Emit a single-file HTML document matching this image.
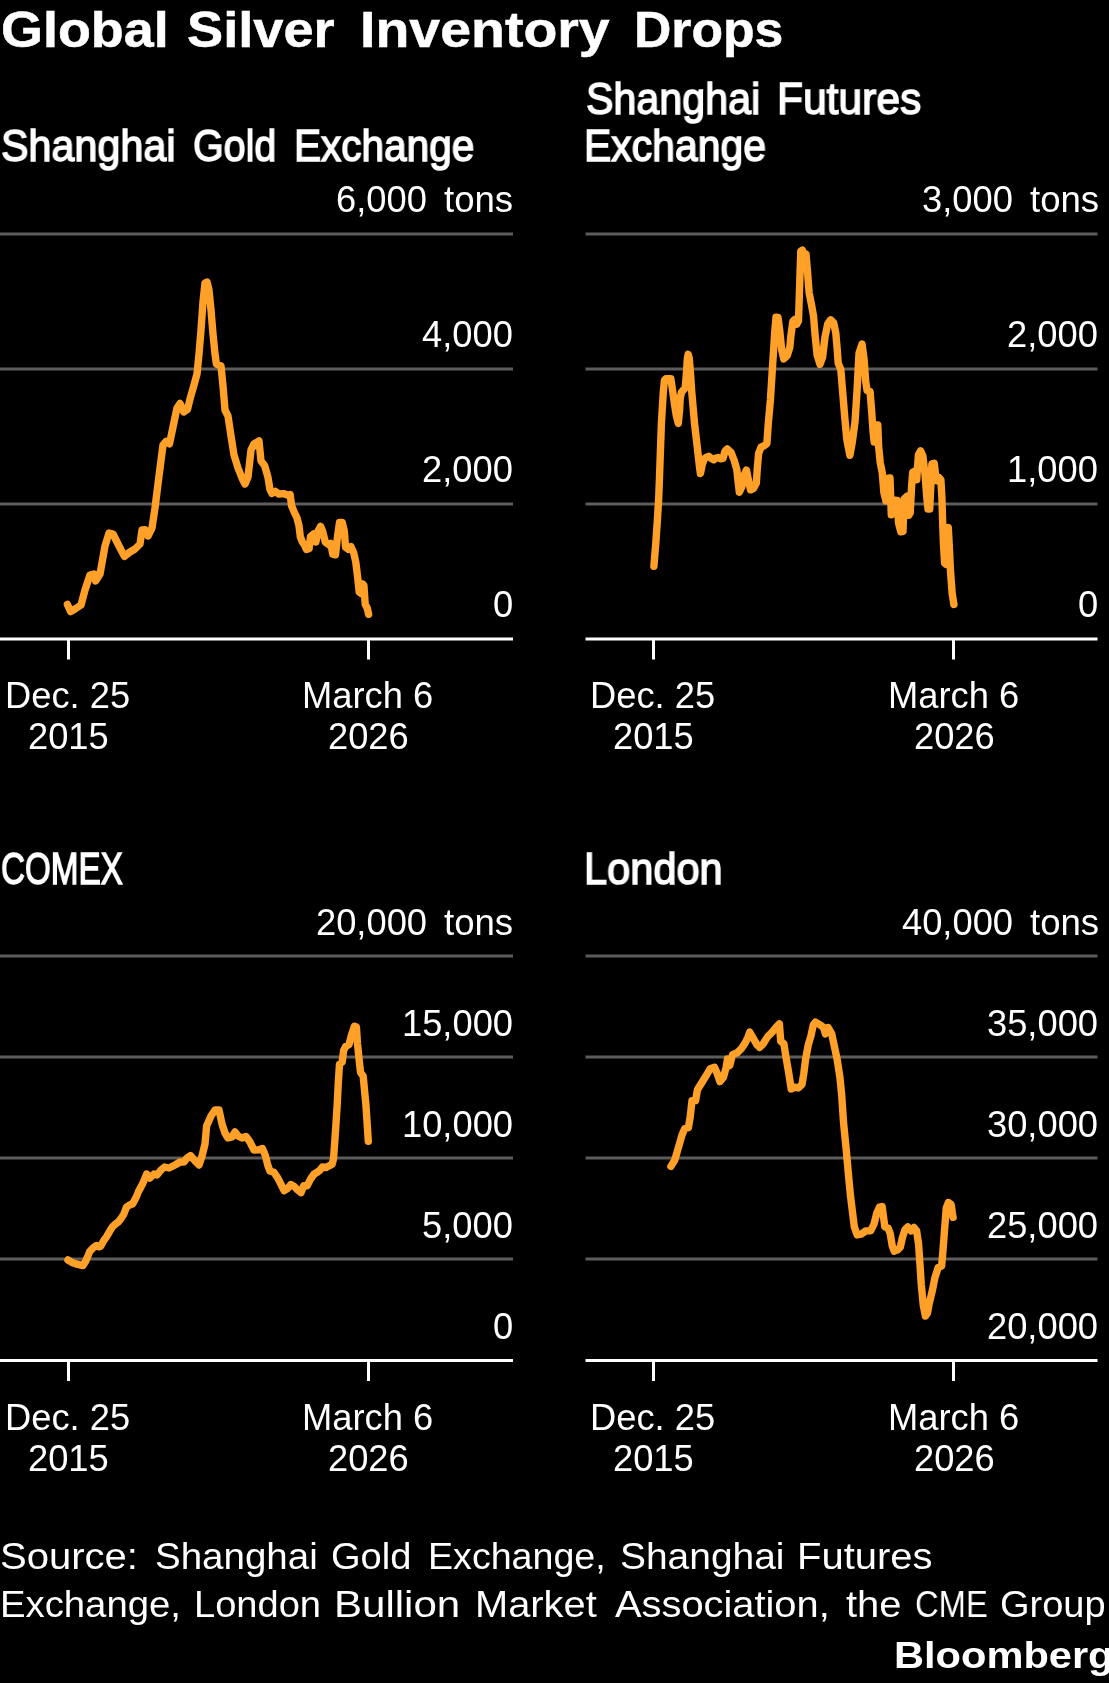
<!DOCTYPE html>
<html><head><meta charset='utf-8'><title>Global Silver Inventory Drops</title><style>
html,body{margin:0;padding:0;background:#000;}
body{width:1109px;height:1683px;position:relative;overflow:hidden;font-family:'Liberation Sans', sans-serif;color:#fff;}
.t{position:absolute;white-space:pre;line-height:1;transform-origin:0 0;color:#fff;will-change:transform;}
svg{position:absolute;left:0;top:0;}
</style></head><body>
<svg width='1109' height='1683' viewBox='0 0 1109 1683'>
<rect x='0' y='232.5' width='513' height='3' fill='#5c5c5c'/>
<rect x='0' y='367.5' width='513' height='3' fill='#5c5c5c'/>
<rect x='0' y='502.5' width='513' height='3' fill='#5c5c5c'/>
<rect x='0' y='637.5' width='513' height='3' fill='#fff'/>
<rect x='67.0' y='639' width='3' height='20.5' fill='#fff'/>
<rect x='367.0' y='639' width='3' height='20.5' fill='#fff'/>
<rect x='585.5' y='232.5' width='512.0' height='3' fill='#5c5c5c'/>
<rect x='585.5' y='367.5' width='512.0' height='3' fill='#5c5c5c'/>
<rect x='585.5' y='502.5' width='512.0' height='3' fill='#5c5c5c'/>
<rect x='585.5' y='637.5' width='512.0' height='3' fill='#fff'/>
<rect x='652.0' y='639' width='3' height='20.5' fill='#fff'/>
<rect x='952.0' y='639' width='3' height='20.5' fill='#fff'/>
<rect x='0' y='954.5' width='513' height='3' fill='#5c5c5c'/>
<rect x='0' y='1055.5' width='513' height='3' fill='#5c5c5c'/>
<rect x='0' y='1156.5' width='513' height='3' fill='#5c5c5c'/>
<rect x='0' y='1257.5' width='513' height='3' fill='#5c5c5c'/>
<rect x='0' y='1359.0' width='513' height='3' fill='#fff'/>
<rect x='67.0' y='1360.5' width='3' height='20.5' fill='#fff'/>
<rect x='367.0' y='1360.5' width='3' height='20.5' fill='#fff'/>
<rect x='585.5' y='954.5' width='512.0' height='3' fill='#5c5c5c'/>
<rect x='585.5' y='1055.5' width='512.0' height='3' fill='#5c5c5c'/>
<rect x='585.5' y='1156.5' width='512.0' height='3' fill='#5c5c5c'/>
<rect x='585.5' y='1257.5' width='512.0' height='3' fill='#5c5c5c'/>
<rect x='585.5' y='1359.0' width='512.0' height='3' fill='#fff'/>
<rect x='652.0' y='1360.5' width='3' height='20.5' fill='#fff'/>
<rect x='952.0' y='1360.5' width='3' height='20.5' fill='#fff'/>
<polyline points='67.4,604.4 70.6,611.6 75.0,609.0 81.0,605.0 85.0,590.0 90.0,575.0 94.0,574.0 95.6,581.0 100.0,574.0 105.0,546.0 109.0,533.0 113.0,534.0 119.0,546.0 124.4,556.4 130.0,552.0 135.0,549.0 140.0,544.0 142.0,530.0 145.0,529.6 148.0,536.0 152.0,528.0 155.0,508.0 159.0,476.0 163.0,445.0 166.0,441.3 169.5,443.8 173.0,427.0 177.0,408.0 180.0,403.5 183.8,412.0 187.5,409.5 190.0,399.0 194.0,385.0 197.0,374.0 199.0,354.0 201.0,330.0 203.0,302.0 205.0,283.0 207.0,282.0 209.0,290.0 211.0,310.0 213.0,334.0 215.0,354.0 216.4,364.0 221.0,366.0 223.0,386.0 225.0,410.0 228.0,416.0 231.0,436.0 234.0,455.0 238.0,468.0 242.0,478.0 245.0,484.0 248.0,477.0 251.0,450.0 254.0,444.0 259.0,441.0 261.0,461.0 264.6,465.5 267.9,477.0 269.9,489.2 271.9,493.3 275.3,491.3 278.7,494.0 283.4,493.6 288.1,495.3 290.2,494.6 291.5,505.5 294.2,512.2 296.9,517.6 299.0,525.7 300.3,536.6 302.3,542.0 304.4,544.7 306.4,549.4 309.1,548.7 310.5,536.6 313.8,533.9 315.9,542.0 317.9,531.2 320.6,526.4 322.6,531.2 325.3,542.0 328.7,544.7 330.7,543.3 332.8,554.2 335.5,554.8 337.5,536.6 339.5,522.4 342.2,522.4 344.3,531.2 345.6,547.4 348.3,549.4 351.0,546.7 353.7,552.8 355.8,562.3 357.8,578.5 359.2,592.0 361.2,593.4 362.5,583.9 363.9,585.3 365.2,604.2 367.3,608.3 368.6,614.3' fill='none' stroke='#ffa028' stroke-width='7.4' stroke-linejoin='round' stroke-linecap='round'/>
<polyline points='653.9,566.3 655.8,543.0 657.4,520.0 658.7,498.0 659.4,480.0 661.4,423.2 663.3,392.0 664.4,380.5 666.0,378.6 670.8,378.6 672.4,389.0 674.6,405.0 676.2,415.0 678.3,423.4 679.6,410.0 680.2,398.2 681.4,392.4 685.2,387.8 686.4,373.3 687.4,358.0 688.2,354.3 689.2,358.0 690.4,372.0 691.6,389.9 694.5,423.2 697.4,448.2 699.4,466.0 700.4,473.6 702.4,464.0 704.4,458.6 706.6,457.2 708.7,456.3 711.0,458.2 713.7,459.8 716.0,458.0 718.1,457.5 720.5,458.8 723.0,458.4 724.9,451.5 727.2,448.8 731.2,452.7 734.3,460.8 736.8,469.6 738.0,480.8 739.3,492.2 741.8,487.0 744.3,474.6 746.4,470.0 748.6,480.8 750.5,489.8 753.6,488.3 756.3,483.3 757.3,468.3 758.6,453.4 761.1,447.1 764.8,445.3 766.9,443.4 768.2,424.7 770.4,399.8 772.4,368.6 773.6,349.9 774.8,331.2 776.0,317.3 778.0,317.5 779.8,331.2 781.7,349.9 783.8,359.0 787.3,355.5 789.8,347.4 791.0,334.9 792.9,321.2 794.8,319.5 796.6,324.3 798.5,321.0 799.8,280.4 800.8,251.1 802.4,250.1 804.4,255.2 806.0,254.1 807.4,270.3 809.1,292.6 811.5,304.7 813.5,315.8 815.1,335.0 817.1,355.2 820.0,364.3 822.6,357.2 825.0,337.0 827.7,323.9 830.7,319.8 833.7,322.9 835.8,333.0 837.2,349.2 838.2,363.3 840.8,369.4 842.8,393.6 844.8,417.9 846.9,440.1 849.9,455.3 852.3,442.1 855.0,421.9 857.0,391.6 859.0,353.2 862.0,344.1 864.1,359.3 865.7,381.5 867.1,390.6 870.1,391.6 871.7,411.8 873.1,432.0 874.2,442.1 875.2,425.0 877.8,425.0 878.6,446.2 880.2,462.4 882.2,472.5 883.9,492.7 885.9,500.8 887.2,478.5 890.0,478.0 891.3,514.8 893.8,513.2 895.0,500.2 897.2,500.4 898.5,522.8 900.8,531.8 903.0,531.3 904.2,498.8 907.3,496.2 908.6,515.4 910.2,513.0 911.6,486.4 912.7,472.3 915.6,470.6 916.7,479.7 918.4,454.8 920.6,450.9 922.9,456.0 925.1,475.1 926.8,497.7 928.0,509.0 929.7,509.0 930.8,486.4 931.9,463.9 934.2,463.3 935.9,477.4 937.0,480.8 938.7,477.4 940.9,479.7 941.9,497.7 942.6,520.3 943.4,542.9 944.6,563.2 946.0,564.3 946.6,528.2 948.3,527.6 949.4,548.5 950.5,571.1 952.2,593.7 953.9,604.4' fill='none' stroke='#ffa028' stroke-width='7.4' stroke-linejoin='round' stroke-linecap='round'/>
<polyline points='67.9,1260.0 72.0,1262.4 77.0,1264.2 82.8,1265.6 85.5,1261.5 87.7,1256.5 89.7,1251.5 93.0,1248.0 96.7,1245.4 99.0,1246.8 100.8,1246.0 103.5,1241.0 106.6,1236.7 109.5,1231.7 112.5,1226.7 115.5,1224.0 118.5,1221.8 121.0,1218.5 123.5,1214.8 125.0,1211.0 126.4,1207.2 129.5,1205.0 132.4,1204.0 134.2,1201.0 136.3,1197.0 138.5,1191.5 143.0,1183.0 146.6,1174.0 150.0,1178.0 154.0,1174.0 157.0,1175.0 161.0,1170.0 164.6,1167.0 169.0,1168.0 175.0,1165.0 180.0,1162.0 184.0,1162.0 187.0,1158.0 190.6,1155.6 195.0,1161.0 199.0,1165.0 202.0,1156.0 205.0,1144.0 206.6,1126.0 211.0,1116.0 215.0,1110.0 219.0,1110.0 222.0,1124.0 225.0,1133.0 228.0,1138.0 232.0,1137.0 235.0,1132.0 238.0,1136.0 242.0,1138.0 246.0,1136.4 250.0,1142.0 254.0,1150.0 259.0,1149.8 262.4,1148.6 265.1,1154.7 267.9,1165.6 269.9,1171.0 273.9,1172.3 278.0,1178.4 281.4,1185.2 284.1,1190.6 287.5,1188.5 290.8,1184.5 294.2,1186.5 297.6,1189.9 301.0,1192.6 303.7,1185.8 307.1,1185.8 310.5,1179.1 313.8,1174.3 317.2,1172.3 319.9,1170.3 322.6,1166.9 326.0,1167.6 329.4,1165.6 332.1,1164.2 333.5,1158.8 334.5,1145.3 335.9,1125.0 337.2,1104.7 338.2,1084.4 339.5,1064.1 342.2,1062.1 343.6,1050.6 345.6,1046.5 349.0,1044.5 351.7,1034.3 354.4,1026.2 356.4,1026.9 357.5,1043.8 358.9,1057.3 360.5,1072.2 363.2,1076.3 364.6,1091.2 365.9,1104.7 367.0,1120.9 368.3,1141.2' fill='none' stroke='#ffa028' stroke-width='7.4' stroke-linejoin='round' stroke-linecap='round'/>
<polyline points='670.9,1166.4 674.8,1160.1 678.4,1147.5 682.1,1134.8 684.8,1128.5 688.4,1127.6 690.2,1116.8 692.0,1100.6 695.6,1100.6 697.4,1089.8 701.9,1082.5 706.4,1075.3 710.0,1069.0 714.5,1067.2 717.2,1073.5 719.9,1081.6 723.5,1077.1 726.2,1067.2 727.5,1059.1 729.8,1065.4 732.5,1054.6 737.1,1052.8 741.6,1048.3 745.2,1042.9 747.9,1037.5 749.7,1032.1 753.3,1038.4 756.9,1044.7 759.6,1047.4 763.2,1043.8 767.7,1036.6 772.2,1032.1 776.7,1026.6 779.4,1023.9 780.7,1041.1 783.9,1043.8 785.7,1055.5 788.5,1071.7 791.2,1088.9 794.8,1087.1 798.4,1088.0 802.0,1084.3 803.8,1073.5 805.6,1059.1 808.3,1044.7 811.0,1035.7 813.3,1024.8 815.5,1022.1 820.0,1024.8 823.6,1027.5 825.4,1033.9 828.1,1027.5 831.7,1033.9 834.4,1046.5 837.1,1059.1 839.9,1077.1 841.7,1095.2 843.5,1122.2 846.2,1149.3 848.6,1176.3 850.5,1196.0 852.3,1210.6 854.3,1226.8 857.1,1234.9 861.1,1234.2 865.8,1230.9 870.6,1230.9 874.0,1224.1 876.7,1213.3 879.4,1207.2 882.1,1206.5 883.4,1216.0 884.8,1226.8 888.2,1228.2 890.2,1233.6 892.2,1245.7 894.2,1251.2 897.6,1249.8 900.3,1247.1 902.4,1237.6 905.1,1229.5 907.8,1226.8 911.2,1230.9 913.9,1227.5 916.6,1230.9 918.6,1244.4 920.0,1264.7 921.3,1285.0 923.3,1305.3 925.4,1316.1 927.4,1313.4 929.4,1302.6 932.1,1291.7 934.8,1278.2 938.2,1267.4 941.6,1266.0 942.9,1251.2 945.0,1224.1 946.3,1207.9 948.4,1202.5 951.1,1204.5 952.4,1213.3 953.1,1217.3' fill='none' stroke='#ffa028' stroke-width='7.4' stroke-linejoin='round' stroke-linecap='round'/>
</svg>
<div class='t' style='left:0.52px;top:5.38px;font-size:49.4px;font-weight:700;transform:scaleX(1.0919);-webkit-text-stroke:0.5px #fff;'>Global</div>
<div class='t' style='left:187.20px;top:5.38px;font-size:49.4px;font-weight:700;transform:scaleX(1.0977);-webkit-text-stroke:0.5px #fff;'>Silver</div>
<div class='t' style='left:359.93px;top:5.38px;font-size:49.4px;font-weight:700;transform:scaleX(1.1233);-webkit-text-stroke:0.5px #fff;'>Inventory</div>
<div class='t' style='left:634.16px;top:5.38px;font-size:49.4px;font-weight:700;transform:scaleX(1.0464);-webkit-text-stroke:0.5px #fff;'>Drops</div>
<div class='t' style='left:1.36px;top:124.15px;font-size:44px;font-weight:400;transform:scaleX(0.9383);-webkit-text-stroke:1.5px #fff;'>Shanghai</div>
<div class='t' style='left:193.40px;top:124.15px;font-size:44px;font-weight:400;transform:scaleX(0.8956);-webkit-text-stroke:1.5px #fff;'>Gold</div>
<div class='t' style='left:293.64px;top:124.15px;font-size:44px;font-weight:400;transform:scaleX(0.9214);-webkit-text-stroke:1.5px #fff;'>Exchange</div>
<div class='t' style='left:585.56px;top:76.65px;font-size:44px;font-weight:400;transform:scaleX(0.9366);-webkit-text-stroke:1.5px #fff;'>Shanghai</div>
<div class='t' style='left:776.80px;top:76.65px;font-size:44px;font-weight:400;transform:scaleX(0.9671);-webkit-text-stroke:1.5px #fff;'>Futures</div>
<div class='t' style='left:584.31px;top:124.05px;font-size:44px;font-weight:400;transform:scaleX(0.9302);-webkit-text-stroke:1.5px #fff;'>Exchange</div>
<div class='t' style='left:0.85px;top:846.85px;font-size:44px;font-weight:400;transform:scaleX(0.7547);-webkit-text-stroke:1.5px #fff;'>COMEX</div>
<div class='t' style='left:583.77px;top:846.55px;font-size:44px;font-weight:400;transform:scaleX(0.9444);-webkit-text-stroke:1.5px #fff;'>London</div>
<div class='t' style='left:0.48px;top:1539.33px;font-size:36px;font-weight:400;transform:scaleX(1.1118);'>Source:</div>
<div class='t' style='left:154.56px;top:1539.33px;font-size:36px;font-weight:400;transform:scaleX(1.0696);'>Shanghai</div>
<div class='t' style='left:331.49px;top:1539.33px;font-size:36px;font-weight:400;transform:scaleX(1.0569);'>Gold</div>
<div class='t' style='left:427.87px;top:1539.33px;font-size:36px;font-weight:400;transform:scaleX(1.0445);'>Exchange,</div>
<div class='t' style='left:620.14px;top:1539.33px;font-size:36px;font-weight:400;transform:scaleX(1.0811);'>Shanghai</div>
<div class='t' style='left:797.37px;top:1539.33px;font-size:36px;font-weight:400;transform:scaleX(1.1102);'>Futures</div>
<div class='t' style='left:0.11px;top:1586.93px;font-size:36px;font-weight:400;transform:scaleX(1.0634);'>Exchange,</div>
<div class='t' style='left:193.53px;top:1586.93px;font-size:36px;font-weight:400;transform:scaleX(1.0574);'>London</div>
<div class='t' style='left:333.50px;top:1586.93px;font-size:36px;font-weight:400;transform:scaleX(1.1680);'>Bullion</div>
<div class='t' style='left:474.98px;top:1586.93px;font-size:36px;font-weight:400;transform:scaleX(1.1065);'>Market</div>
<div class='t' style='left:615.00px;top:1586.93px;font-size:36px;font-weight:400;transform:scaleX(1.1063);'>Association,</div>
<div class='t' style='left:845.70px;top:1586.93px;font-size:36px;font-weight:400;transform:scaleX(1.1082);'>the</div>
<div class='t' style='left:915.48px;top:1586.93px;font-size:36px;font-weight:400;transform:scaleX(0.9091);'>CME</div>
<div class='t' style='left:1000.19px;top:1586.93px;font-size:36px;font-weight:400;transform:scaleX(1.0557);'>Group</div>
<div class='t' style='left:893.55px;top:1636.58px;font-size:37px;font-weight:700;transform:scaleX(1.1241);'>Bloomberg</div>
<div class='t' style='left:336.00px;top:182.27px;font-size:36.3px;font-weight:400;'>6,000</div>
<div class='t' style='left:444.10px;top:182.27px;font-size:36.3px;font-weight:400;transform:scaleX(1.0075);'>tons</div>
<div class='t' style='left:421.60px;top:317.27px;font-size:36.3px;font-weight:400;'>4,000</div>
<div class='t' style='left:421.60px;top:452.27px;font-size:36.3px;font-weight:400;'>2,000</div>
<div class='t' style='left:492.60px;top:587.27px;font-size:36.3px;font-weight:400;'>0</div>
<div class='t' style='left:921.60px;top:182.27px;font-size:36.3px;font-weight:400;'>3,000</div>
<div class='t' style='left:1029.70px;top:182.27px;font-size:36.3px;font-weight:400;transform:scaleX(1.0075);'>tons</div>
<div class='t' style='left:1007.20px;top:317.27px;font-size:36.3px;font-weight:400;'>2,000</div>
<div class='t' style='left:1007.20px;top:452.27px;font-size:36.3px;font-weight:400;'>1,000</div>
<div class='t' style='left:1078.20px;top:587.27px;font-size:36.3px;font-weight:400;'>0</div>
<div class='t' style='left:316.00px;top:904.57px;font-size:36.3px;font-weight:400;'>20,000</div>
<div class='t' style='left:444.10px;top:904.57px;font-size:36.3px;font-weight:400;transform:scaleX(1.0075);'>tons</div>
<div class='t' style='left:401.60px;top:1005.57px;font-size:36.3px;font-weight:400;'>15,000</div>
<div class='t' style='left:401.60px;top:1106.57px;font-size:36.3px;font-weight:400;'>10,000</div>
<div class='t' style='left:421.60px;top:1207.57px;font-size:36.3px;font-weight:400;'>5,000</div>
<div class='t' style='left:492.60px;top:1308.57px;font-size:36.3px;font-weight:400;'>0</div>
<div class='t' style='left:901.60px;top:904.57px;font-size:36.3px;font-weight:400;'>40,000</div>
<div class='t' style='left:1029.70px;top:904.57px;font-size:36.3px;font-weight:400;transform:scaleX(1.0075);'>tons</div>
<div class='t' style='left:987.20px;top:1005.57px;font-size:36.3px;font-weight:400;'>35,000</div>
<div class='t' style='left:987.20px;top:1106.57px;font-size:36.3px;font-weight:400;'>30,000</div>
<div class='t' style='left:987.20px;top:1207.57px;font-size:36.3px;font-weight:400;'>25,000</div>
<div class='t' style='left:987.20px;top:1308.57px;font-size:36.3px;font-weight:400;'>20,000</div>
<div class='t' style='left:4.80px;top:677.97px;font-size:36.3px;font-weight:400;'>Dec. 25</div>
<div class='t' style='left:27.80px;top:719.47px;font-size:36.3px;font-weight:400;'>2015</div>
<div class='t' style='left:302.10px;top:677.97px;font-size:36.3px;font-weight:400;'>March 6</div>
<div class='t' style='left:328.10px;top:719.47px;font-size:36.3px;font-weight:400;'>2026</div>
<div class='t' style='left:590.40px;top:677.97px;font-size:36.3px;font-weight:400;'>Dec. 25</div>
<div class='t' style='left:613.40px;top:719.47px;font-size:36.3px;font-weight:400;'>2015</div>
<div class='t' style='left:887.70px;top:677.97px;font-size:36.3px;font-weight:400;'>March 6</div>
<div class='t' style='left:913.70px;top:719.47px;font-size:36.3px;font-weight:400;'>2026</div>
<div class='t' style='left:4.80px;top:1399.67px;font-size:36.3px;font-weight:400;'>Dec. 25</div>
<div class='t' style='left:27.80px;top:1441.17px;font-size:36.3px;font-weight:400;'>2015</div>
<div class='t' style='left:302.10px;top:1399.67px;font-size:36.3px;font-weight:400;'>March 6</div>
<div class='t' style='left:328.10px;top:1441.17px;font-size:36.3px;font-weight:400;'>2026</div>
<div class='t' style='left:590.40px;top:1399.67px;font-size:36.3px;font-weight:400;'>Dec. 25</div>
<div class='t' style='left:613.40px;top:1441.17px;font-size:36.3px;font-weight:400;'>2015</div>
<div class='t' style='left:887.70px;top:1399.67px;font-size:36.3px;font-weight:400;'>March 6</div>
<div class='t' style='left:913.70px;top:1441.17px;font-size:36.3px;font-weight:400;'>2026</div>
</body></html>
